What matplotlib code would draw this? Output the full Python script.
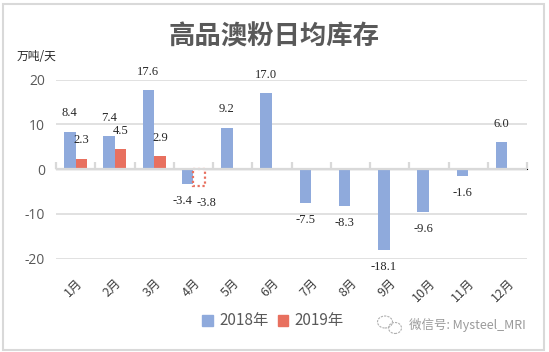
import matplotlib
matplotlib.use("Agg")
import matplotlib.pyplot as plt
import numpy as np
from matplotlib.patches import Rectangle, Ellipse

plt.rcParams['font.family'] = ['Noto Sans CJK SC', 'DejaVu Sans']

months = ["1月", "2月", "3月", "4月", "5月", "6月", "7月", "8月", "9月", "10月", "11月", "12月"]
v2018 = [8.4, 7.4, 17.6, -3.4, 9.2, 17.0, -7.5, -8.3, -18.1, -9.6, -1.6, 6.0]
v2019 = [2.3, 4.5, 2.9, -3.8]
series_names = ["2018年", "2019年"]
yticks = [-20, -10, 0, 10, 20]
title = "高品澳粉日均库存"
unit = "万吨/天"
watermark = "微信号: Mysteel_MRI"

BLUE = "#8FAADC"
RED = "#E8705F"
GRID = "#D9D9D9"
TXT = "#595959"

W, H = 549, 352
fig = plt.figure(figsize=(W / 100, H / 100), dpi=100)
ax = fig.add_axes([56 / W, (H - 258.7) / H, (527 - 56) / W, (258.7 - 79.6) / H])

n = len(months)
x = np.arange(n)
bw = 0.295
xb = x - bw / 2
xr = x + bw / 2

ax.bar(xb, v2018, width=bw, color=BLUE, zorder=3)
# 2019: last value shown as dotted outline (forecast)
ax.bar(xr[:len(v2019) - 1], v2019[:-1], width=bw, color=RED, zorder=3)
ax.bar(xr[len(v2019) - 1], v2019[-1], width=bw, facecolor="white", edgecolor=RED,
       linestyle=(0, (1, 1.2)), linewidth=1.6, zorder=3)

serif = ['Liberation Serif', 'DejaVu Serif']

def label(xs, vs, shifts=None):
    for i, (xi, v) in enumerate(zip(xs, vs)):
        dx = shifts.get(i, 0) if shifts else 0
        if v >= 0:
            ax.annotate(f"{v:.1f}", (xi, v), xytext=(dx, 9.0), textcoords="offset points",
                        ha="center", va="bottom", fontsize=9, family=serif, color="#262626",
                        annotation_clip=False, zorder=5)
        else:
            ax.annotate(f"{v:.1f}", (xi, v), xytext=(dx, -8.0), textcoords="offset points",
                        ha="center", va="top", fontsize=9, family=serif, color="#262626",
                        annotation_clip=False, zorder=5)

label(xb, v2018, {3: -4})
label(xr[:len(v2019)], v2019, {3: 5})

ax.set_xlim(-0.5, n - 0.5)
ax.set_ylim(-20, 20)
ax.set_yticks(yticks)
ax.set_yticklabels([str(t) for t in yticks], fontsize=10, color=TXT, family=['Open Sans', 'DejaVu Sans'])
ax.tick_params(axis='y', length=0, pad=8)
ax.grid(axis='y', color=GRID, linewidth=1.1, zorder=0)
for s in ax.spines.values():
    s.set_visible(False)

ax.set_xticks(x)
ax.set_xticklabels(months, rotation=45, ha='right', va='top', rotation_mode='anchor',
                   fontsize=9, color="#404040")
ax.tick_params(axis='x', length=0, pad=13)

# zero axis with tick marks at category boundaries
ax.axhline(0, color=GRID, linewidth=1.6, zorder=4)
sec = ax.secondary_xaxis(0.5)
sec.set_xticks(np.arange(n + 1) - 0.5)
sec.set_xticklabels([])
sec.tick_params(axis='x', length=5, width=1.6, color=GRID, direction='out')
sec.spines['bottom'].set_visible(False)

# title and unit
fig.text(274 / W, 1 - 37 / H, title, ha='center', va='center', fontsize=19,
         fontweight='bold', color=TXT)
fig.text(17 / W, 1 - 56 / H, unit, ha='left', va='center', fontsize=8.5, color="#262626")

# legend
leg = fig.legend(handles=[Rectangle((0, 0), 1, 1, color=BLUE), Rectangle((0, 0), 1, 1, color=RED)],
                 labels=series_names, loc='center', bbox_to_anchor=(273 / W, 1 - 321 / H),
                 ncol=2, frameon=False, fontsize=11, handlelength=0.7, handleheight=0.7,
                 handletextpad=0.4, columnspacing=0.6)
for t in leg.get_texts():
    t.set_color(TXT)

# watermark
fig.text(409 / W, 1 - 325 / H, watermark, ha='left', va='center', fontsize=9, color="#9a9a9a")
fig.patches.append(Ellipse((385 / W, 1 - 322 / H), 15 / W, 12 / H, transform=fig.transFigure,
                           fill=False, edgecolor="#b0b0b0", linewidth=0.8, linestyle=(0, (2, 1))))
fig.patches.append(Ellipse((395 / W, 1 - 328 / H), 13 / W, 11 / H, transform=fig.transFigure,
                           fill=False, edgecolor="#b0b0b0", linewidth=0.8, linestyle=(0, (2, 1))))

# outer border
fig.patches.append(Rectangle((3 / W, 2.5 / H), 541 / W, 346 / H, transform=fig.transFigure,
                             fill=False, edgecolor=GRID, linewidth=1.5))

fig.savefig("out.png", dpi=100)
